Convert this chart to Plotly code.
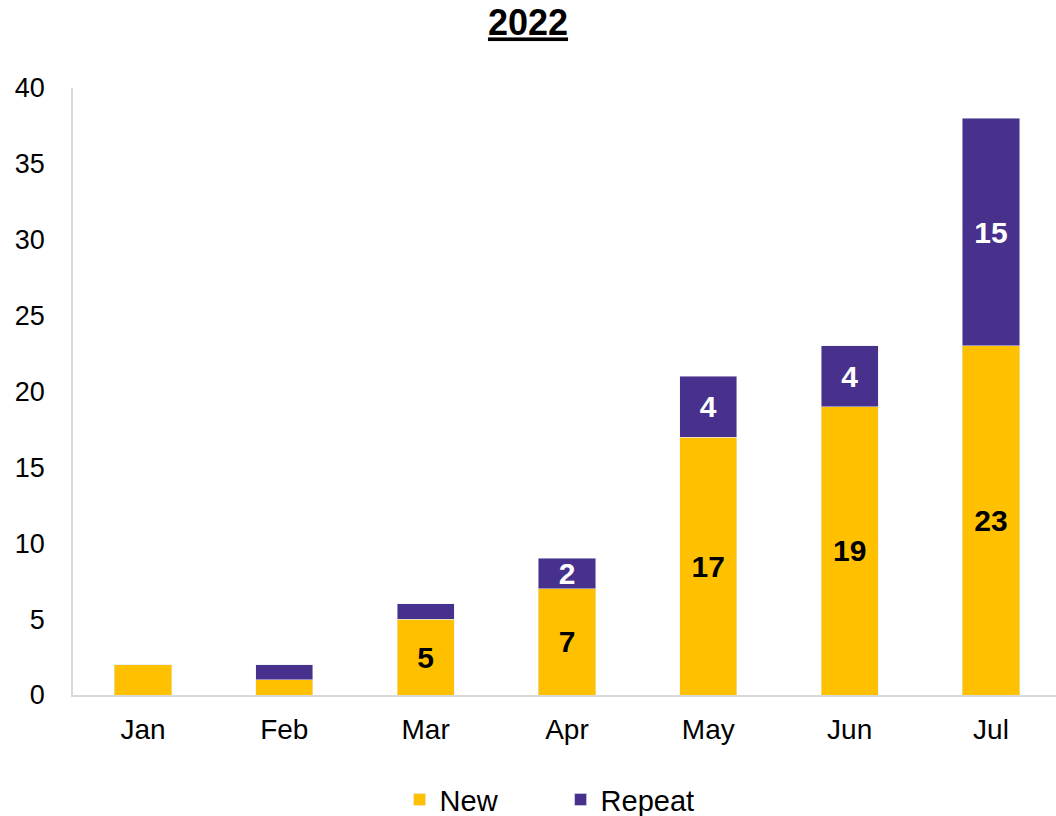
import plotly.graph_objects as go

months = ["Jan", "Feb", "Mar", "Apr", "May", "Jun", "Jul"]
new_vals = [2, 1, 5, 7, 17, 19, 23]
repeat_vals = [0, 1, 1, 2, 4, 4, 15]
y_ticks = [0, 5, 10, 15, 20, 25, 30, 35, 40]

def labels(vals, minimum):
    return [str(v) if v >= minimum else "" for v in vals]

FONT = "Liberation Sans, Arial"

fig = go.Figure()
fig.add_trace(go.Bar(
    x=months, y=new_vals, name="New",
    marker=dict(color="#FFC000"),
    text=labels(new_vals, 5), textposition="inside", insidetextanchor="middle", textangle=0,
    textfont=dict(family=FONT, size=30, color="black", weight="bold"),
    constraintext="none", hoverinfo="skip",
))
fig.add_trace(go.Bar(
    x=months, y=repeat_vals, name="Repeat",
    marker=dict(color="#48308D"),
    text=labels(repeat_vals, 2), textposition="inside", insidetextanchor="middle", textangle=0,
    textfont=dict(family=FONT, size=30, color="white", weight="bold"),
    constraintext="none", hoverinfo="skip",
))

fig.update_layout(
    barmode="stack",
    bargap=0.595,
    width=1056, height=816,
    paper_bgcolor="white", plot_bgcolor="white",
    margin=dict(l=73, r=0, t=88, b=121, autoexpand=False),
    font=dict(family=FONT, size=27, color="black"),
    title=dict(text="<b><u>2022</u></b>", x=0.5, xanchor="center", y=0.972, yanchor="middle",
               font=dict(size=36, color="black")),
    showlegend=True,
    legend=dict(orientation="h", x=0.496, xanchor="center", yref="container", y=0.02,
                yanchor="middle", font=dict(size=29), itemwidth=30, traceorder="normal",
                entrywidth=116),
    xaxis=dict(showline=True, linecolor="#D9D9D9", linewidth=2, ticks="",
               ticklabelstandoff=8, showgrid=False, tickfont=dict(size=28),
               range=[-0.495, 6.46]),
    yaxis=dict(range=[0, 40], tickvals=y_ticks, showline=True, linecolor="#D9D9D9",
               linewidth=1.5, ticks="", ticklabelstandoff=21, showgrid=False, zeroline=False,
               tickfont=dict(size=27)),
)

fig.write_html("out.html", config={"displayModeBar": False},
               post_script="document.body.style.margin='0';")
